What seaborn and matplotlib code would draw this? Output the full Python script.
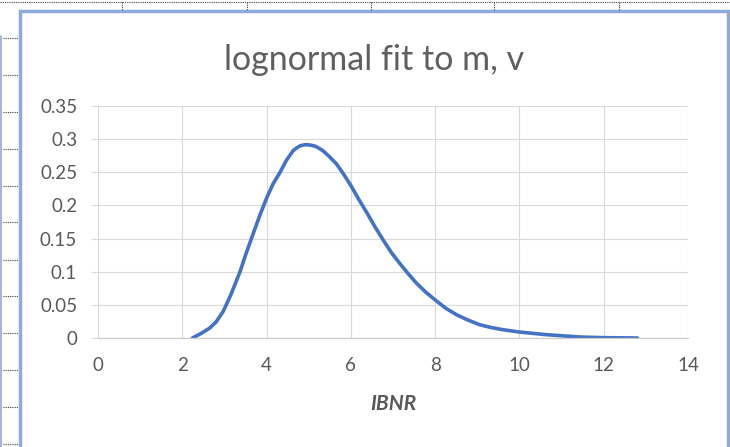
import numpy as np
import pandas as pd
import matplotlib
matplotlib.use('Agg')
import matplotlib.pyplot as plt
from matplotlib.lines import Line2D
from matplotlib.patches import Rectangle
import seaborn as sns

# values
ibnr = [2.24, 2.45, 2.65, 2.80, 2.97, 3.15, 3.37, 3.50, 3.64, 3.84, 4.01, 4.15, 4.32,
        4.47, 4.63, 4.72, 4.80, 4.90, 4.99, 5.08, 5.17, 5.34, 5.50, 5.66, 5.83, 6.00,
        6.18, 6.37, 6.57, 6.77, 6.96, 7.16, 7.36, 7.56, 7.78, 8.00, 8.25, 8.51, 8.78,
        9.06, 9.33, 9.61, 10.0, 10.64, 11.43, 12.0, 12.8]
density = [0.0, 0.007, 0.015, 0.024, 0.04, 0.065, 0.10, 0.125, 0.15, 0.185, 0.2125, 0.232, 0.25,
           0.268, 0.2825, 0.287, 0.290, 0.2915, 0.2915, 0.2905, 0.289, 0.2825, 0.273, 0.2625, 0.247, 0.230,
           0.210, 0.19, 0.168, 0.1475, 0.129, 0.1125, 0.097, 0.0825, 0.069, 0.0575, 0.045, 0.035, 0.027,
           0.02, 0.0158, 0.0125, 0.009, 0.005, 0.0015, 0.0005, 0.0]
xticks = [0, 2, 4, 6, 8, 10, 12, 14]
yticks = [0, 0.05, 0.1, 0.15, 0.2, 0.25, 0.3, 0.35]
ytick_labels = ['0', '0.05', '0.1', '0.15', '0.2', '0.25', '0.3', '0.35']

df = pd.DataFrame({'IBNR': ibnr, 'density': density})

sns.set_theme(style='whitegrid')
plt.rcParams['font.family'] = ['Lato', 'DejaVu Sans']

W, H = 730, 447
fig = plt.figure(figsize=(W / 100, H / 100), dpi=100)
fig.patch.set_facecolor('white')

ax = fig.add_axes([98 / W, 1 - 338 / H, 590 / W, 232 / H])
sns.lineplot(data=df, x='IBNR', y='density', ax=ax, color='#4472c4', linewidth=2.6)

ax.set_xlim(0, 14)
ax.set_ylim(0, 0.35)
ax.set_xticks(xticks)
ax.set_yticks(yticks)
ax.set_yticklabels(ytick_labels)
ax.set_facecolor('white')
ax.grid(True, color='#d9d9d9', linewidth=0.8)
for s in ['top', 'right', 'left']:
    ax.spines[s].set_visible(False)
ax.spines['bottom'].set_color('#cccccc')
ax.spines['bottom'].set_linewidth(0.9)
ax.tick_params(axis='y', length=5, width=0.8, color='#d9d9d9', pad=10,
               labelsize=13.5, labelcolor='#595959', left=True)
ax.tick_params(axis='x', length=0, pad=14, labelsize=13.5, labelcolor='#595959')
ax.set_ylabel('')
ax.set_xlabel('IBNR', fontsize=15, fontweight='bold', fontstyle='italic',
              color='#595959', labelpad=14)

fig.text(374 / W, 1 - 70 / H, 'lognormal fit to m, v', ha='center', va='baseline',
         fontsize=24.5, fontweight='normal', color='#5f5f5f')

# chart frame
fig.add_artist(Rectangle((20 / W, -0.1), 708 / W, 1.1 - 11 / H, transform=fig.transFigure,
                         fill=False, edgecolor='#8eaadb', linewidth=2.5))

# worksheet dotted lines behind the chart
dot = dict(color='#444444', linestyle=(0, (1, 1)), linewidth=0.8, transform=fig.transFigure)
fig.add_artist(Line2D([0, 1], [1 - 1.5 / H, 1 - 1.5 / H], **dot))
for xp in [122, 247, 371, 494, 619]:
    fig.add_artist(Line2D([xp / W, xp / W], [1 - 2 / H, 1 - 10 / H], **dot))
for yp in [38, 74.5, 111.5, 148.5, 185.5, 222.5, 259.5, 296, 332.5, 370, 407, 444]:
    fig.add_artist(Line2D([3 / W, 18 / W], [1 - yp / H, 1 - yp / H], **dot))
fig.add_artist(Line2D([1 / W, 1 / W], [1 - 36 / H, 0], color='#8eaadb', linewidth=1.2,
                      transform=fig.transFigure))

fig.savefig('out.png', dpi=100)
